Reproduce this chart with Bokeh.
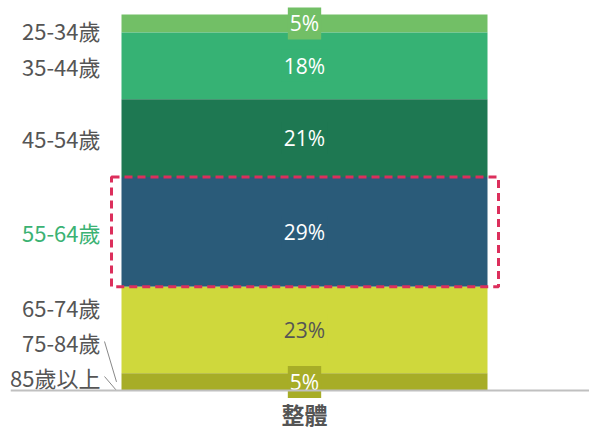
from bokeh.plotting import figure
from bokeh.models import Range1d, ColumnDataSource, Span
from bokeh.core.properties import value
from bokeh.embed import file_html
from bokeh.resources import INLINE

# ---- data (top to bottom of the stack) ----
categories = ["25-34歲", "35-44歲", "45-54歲", "55-64歲", "65-74歲", "75-84歲", "85歲以上"]
shares = [4.8, 17.8, 20.8, 29.3, 23.1, 4.6, 0.0]
colors = ["#72bf66", "#36b274", "#1e7852", "#2a5b79", "#cfd83c", "#a7ad27", "#7f8a1f"]
group = "整體"
highlight = "55-64歲"

# ---- layout (pixels) ----
W, H = 589, 430
B_LEFT = 10
FW, FH = W - B_LEFT, H
BAR_PX = 366          # bar width in px
BAR_CENTER_PX = 294   # bar centre from frame left
BAR_TOP_PX = 14       # top of the bar from the top of the frame
BASE_PX = 390         # baseline (0%) from the top of the frame

total = sum(shares)
px_x = BAR_PX / 1.0
px_y = (BASE_PX - BAR_TOP_PX) / total

# stack bottom-up
order = list(range(len(categories)))[::-1]
bottoms = [0.0] * len(categories)
acc = 0.0
for i in order:
    bottoms[i] = acc
    acc += shares[i]
tops = [b + s for b, s in zip(bottoms, shares)]
centers = [(b + t) / 2 for b, t in zip(bottoms, tops)]

p = figure(width=W, height=H, output_backend="svg", toolbar_location=None,
           x_range=Range1d(-BAR_CENTER_PX / px_x, (FW - BAR_CENTER_PX) / px_x),
           y_range=Range1d(-(FH - BASE_PX) / px_y, BASE_PX / px_y),
           min_border_left=B_LEFT, min_border_right=0,
           min_border_top=0, min_border_bottom=0)
p.outline_line_color = None
p.grid.visible = False
p.axis.visible = False
p.background_fill_color = "white"

src = ColumnDataSource(dict(x=[0] * len(categories), bottom=bottoms, top=tops,
                            color=colors, cat=categories))
p.vbar(x="x", width=1.0, bottom="bottom", top="top", fill_color="color",
       line_color=None, source=src)

# baseline (category axis line)
p.add_layout(Span(location=0, dimension="width", line_color="#c0c0c0", line_width=2))

# category label under the bar
p.text(x=[0], y=[-23 / px_y], text=[group], text_align="center", text_baseline="middle",
       text_font=value("Noto Sans CJK TC"), text_font_size="23px",
       text_font_style="bold", text_color="#555555")

# highlight box
hi = categories.index(highlight)
p.quad(left=-0.5 - 10 / px_x, right=0.5 + 11 / px_x, bottom=bottoms[hi], top=tops[hi],
       fill_alpha=0, line_color="#dc2f5c", line_width=3, line_dash="8 5")

# percentage labels
def luminance(c):
    r, g, b = int(c[1:3], 16), int(c[3:5], 16), int(c[5:7], 16)
    return (0.2126 * r + 0.7152 * g + 0.0722 * b) / 255

for i in range(len(categories)):
    if shares[i] <= 0:
        continue
    tc = "#555555" if luminance(colors[i]) > 0.7 else "white"
    p.text(x=[0], y=[centers[i]], text=[f"{round(shares[i])}%"],
           text_align="center", text_baseline="middle",
           text_font=value("Open Sans"), text_font_size="21px", text_color=tc,
           background_fill_color=colors[i], padding=2)

# category labels on the left, dodged so they don't overlap
FLOOR, GAP, CEIL = 14 / px_y, 35 / px_y, total - 15 / px_y
pos = [0.0] * len(categories)
prev = None
for i in order:
    pos[i] = max(centers[i], FLOOR if prev is None else pos[prev] + GAP)
    prev = i
nxt = None
for i in order[::-1]:
    pos[i] = min(pos[i], CEIL if nxt is None else pos[nxt] - GAP)
    nxt = i

label_x = -0.5 - 21 / px_x
for i in range(len(categories)):
    c = "#3bb273" if categories[i] == highlight else "#555555"
    p.text(x=[label_x], y=[pos[i]], text=[categories[i]], text_align="right",
           text_baseline="middle", text_font=value("Noto Sans CJK TC"),
           text_font_size="22px", text_color=c)
    if shares[i] < 10 and abs(pos[i] - centers[i]) * px_y > 12:
        p.line(x=[label_x + 4 / px_x, -0.5 - 5 / px_x], y=[pos[i], centers[i]],
               line_color="#888888", line_width=1)

open("out.html", "w").write(file_html(p, INLINE))
